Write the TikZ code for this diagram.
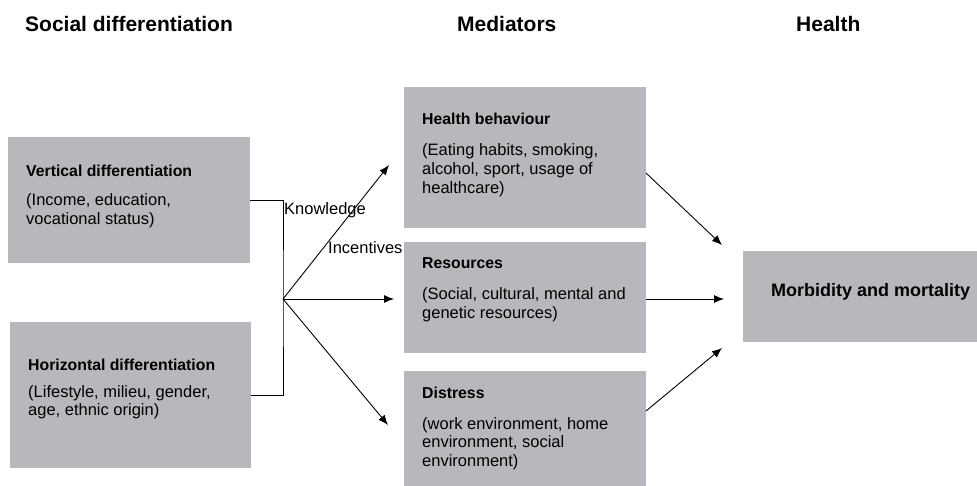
\documentclass[tikz,border=0pt]{standalone}
\usepackage{fontspec}
\setmainfont{Liberation Sans}
\usetikzlibrary{arrows.meta}
\definecolor{boxgrey}{RGB}{183,184,188}
\begin{document}
\begin{tikzpicture}[x=1pt,y=-1pt,
  box/.style={fill=boxgrey, draw=none, anchor=north west, inner sep=0pt, outer sep=0pt},
  hdg/.style={anchor=base west, inner sep=0pt, font=\fontsize{21}{25}\selectfont\bfseries},
  ttl/.style={anchor=base west, inner sep=0pt, font=\fontsize{15.8}{19}\selectfont\bfseries},
  bigttl/.style={anchor=base west, inner sep=0pt, font=\fontsize{18}{22}\selectfont\bfseries},
  % multi-line body text: the base anchor sits on the baseline of the last line
  body/.style={anchor=base west, inner sep=0pt, align=left, font=\fontsize{16.5}{18.6}\selectfont},
  lbl/.style={anchor=base west, inner sep=0pt, font=\fontsize{16.5}{19}\selectfont},
  ln/.style={draw=black, line width=0.9pt},
  arr/.style={ln, -{Latex[length=10pt,width=8pt]}}]
\useasboundingbox (0,0) rectangle (977,486);

% column headings
\node[hdg] (hSoc) at (25,32) {Social differentiation};
\node[hdg] (hMed) at (457,32) {Mediators};
\node[hdg] (hHea) at (796,32) {Health};

% social differentiation boxes
\node[box, minimum width=242pt, minimum height=126pt] (vd) at (8,137) {};
\node[ttl] (vdT) at (26,177) {Vertical differentiation};
\node[body] (vdB) at (26,224.6) {(Income, education,\\vocational status)};

\node[box, minimum width=241pt, minimum height=146pt] (hd) at (10,322) {};
\node[ttl] (hdT) at (28,370) {Horizontal differentiation};
\node[body] (hdB) at (28,415.6) {(Lifestyle, milieu, gender,\\age, ethnic origin)};

% mediator boxes
\node[box, minimum width=242pt, minimum height=141pt] (hb) at (404,87) {};
\node[ttl] (hbT) at (422,125) {Health behaviour};
\node[body] (hbB) at (422,193.2) {(Eating habits, smoking,\\alcohol, sport, usage of\\healthcare)};

\node[box, minimum width=242pt, minimum height=111pt] (res) at (404,242) {};
\node[ttl] (resT) at (422,269) {Resources};
\node[body] (resB) at (422,318.6) {(Social, cultural, mental and\\genetic resources)};

\node[box, minimum width=242pt, minimum height=115pt] (dis) at (404,371) {};
\node[ttl] (disT) at (422,398) {Distress};
\node[body] (disB) at (422,466.2) {(work environment, home\\environment, social\\environment)};

% outcome box
\node[box, minimum width=234pt, minimum height=91pt] (mm) at (743,251) {};
\node[bigttl] (mmT) at (771,297) {Morbidity and mortality};

% junction and arrow ends
\coordinate (J) at (283,299);
\coordinate (tHb) at (389,165);
\coordinate (tRes) at (394,299);
\coordinate (tDis) at (388,425);
\coordinate (oHb) at (646,173);
\coordinate (oDis) at (646,411);
\coordinate (iTop) at (722,245);
\coordinate (iMid) at (724,299);
\coordinate (iBot) at (722,348);

% bracket joining the two kinds of differentiation
\draw[ln] (vd.east) -| (J) |- (hd.east);

% pathways to the mediators
\draw[arr] (J) -- (tHb);
\draw[arr] (J) -- (tRes);
\draw[arr] (J) -- (tDis);
\node[lbl] (lKnow) at (284,215) {Knowledge};
\node[lbl] (lInc) at (328,254) {Incentives};

% pathways to health
\draw[arr] (oHb) -- (iTop);
\draw[arr] (res.east |- iMid) -- (iMid);
\draw[arr] (oDis) -- (iBot);
\end{tikzpicture}
\end{document}
